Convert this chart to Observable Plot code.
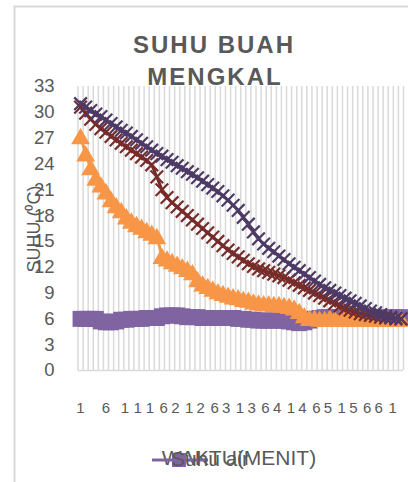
<!DOCTYPE html>
<html><head><meta charset="utf-8">
<script src="https://cdn.jsdelivr.net/npm/d3@7"></script>
<script src="https://cdn.jsdelivr.net/npm/@observablehq/plot@0.6"></script>
<style>body{margin:0;background:#fff;} #chart svg{display:block;}</style>
</head><body><div id="chart"></div>
<script>
// categories: WAKTU (MENIT)
const menit = [1,2,3,4,5,6,7,8,9,10,11,12,13,14,15,16,17,18,19,20,21,22,23,24,25,26,27,28,29,30,31,32,33,34,35,36,37,38,39,40,41,42,43,44,45,46,47,48,49,50,51,52,53,54,55,56,57,58,59,60,61,62,63,64];
// series values (°C)
const suhuA = [31.0,30.6,30.2,29.8,29.5,29.1,28.7,28.3,27.9,27.6,27.2,26.8,26.4,26.0,25.6,25.2,24.9,24.5,24.2,23.8,23.5,23.1,22.8,22.4,22.0,21.6,21.2,20.8,20.3,19.8,19.2,18.6,17.8,17.0,16.1,15.3,14.7,14.2,13.8,13.3,12.9,12.4,12.0,11.6,11.2,10.8,10.4,10.0,9.6,9.3,9.0,8.7,8.4,8.1,7.8,7.5,7.2,6.9,6.7,6.5,6.3,6.2,6.1,6.0];
const suhuB = [30.6,29.9,29.2,28.6,28.1,27.7,27.2,26.8,26.4,26.0,25.6,25.2,24.8,24.4,23.9,22.5,21.0,20.1,19.5,19.0,18.5,18.0,17.5,17.0,16.5,16.0,15.5,15.0,14.5,14.0,13.6,13.2,12.8,12.4,12.1,11.8,11.6,11.4,11.2,11.0,10.8,10.5,10.2,9.9,9.6,9.3,9.0,8.7,8.4,8.1,7.8,7.5,7.2,7.0,6.8,6.6,6.5,6.4,6.3,6.2,6.1,6.1,6.0,6.0];
const suhuC = [27.2,25.2,23.6,22.4,21.6,20.8,19.9,19.2,18.6,17.9,17.4,17.0,16.7,16.3,16.0,15.6,13.3,13.0,12.7,12.4,12.1,11.8,11.4,10.6,10.1,9.8,9.5,9.2,9.0,8.8,8.6,8.5,8.3,8.2,8.0,7.9,7.8,7.8,7.7,7.7,7.6,7.5,7.3,6.9,6.4,6.1,6.1,6.0,6.0,6.1,6.0,6.0,6.1,6.0,6.0,6.0,6.1,6.0,6.0,6.0,6.0,6.0,6.0,6.0];
const suhuAir = [6.0,6.0,6.0,6.0,5.7,5.6,5.6,5.7,5.9,5.9,6.0,6.0,6.0,6.1,6.1,6.1,6.3,6.4,6.4,6.4,6.3,6.2,6.2,6.2,6.1,6.1,6.1,6.1,6.1,6.1,6.1,6.0,6.0,5.9,5.9,5.8,5.8,5.8,5.8,5.8,5.8,5.7,5.6,5.5,5.6,5.8,6.0,6.1,6.2,6.2,6.2,6.2,6.2,6.2,6.2,6.2,6.2,6.2,6.2,6.2,6.2,6.2,6.2,6.2];
// tick labels
const yTicks = [0,3,6,9,12,15,18,21,24,27,30,33];
const xTicks = [1,6,11,16,21,26,31,36,41,46,51,56,61];
const titleLines = ["SUHU BUAH", "MENGKAL"];
const yTitle = "SUHU (\u2070C)";
const xTitle = "WAKTU(MENIT)";
const legendLabel = "Suhu air";

const cDark = "#4d3a66", cRed = "#782c2a", cOrange = "#f79646", cLav = "#8064a2", cText = "#595959";

const toRows = vals => menit.map((m, i) => ({menit: m, suhu: vals[i]}));
const A = toRows(suhuA), B = toRows(suhuB), C = toRows(suhuC), Air = toRows(suhuAir);
const gridPos = menit.map(m => m - 0.5).concat([menit[menit.length - 1] + 0.5]);
const xDomain = [menit[0] - 0.5, menit[menit.length - 1] + 0.5];

const font = "'Liberation Sans', Arial, sans-serif";
const xLetter = 5.5;

const chart = Plot.plot({
  width: 408, height: 482,
  marginLeft: 77.5, marginRight: 5, marginTop: 86, marginBottom: 112,
  x: {type: "linear", domain: xDomain, axis: null},
  y: {domain: [0, 33], axis: null},
  style: {fontFamily: font, background: "white", overflow: "visible"},
  marks: [
    Plot.ruleX(gridPos, {stroke: "#d9d9d9", strokeWidth: 1.5}),
    Plot.ruleY([0], {stroke: "#d9d9d9", strokeWidth: 1.5}),
    Plot.axisY(yTicks, {tickSize: 0, tickPadding: 23.5, fontSize: 18.5, fill: cText, label: null}),
    Plot.axisX(xTicks, {tickSize: 0, tickPadding: 32, fontSize: 15, fill: cText, label: null, dx: xLetter / 2}),
    Plot.lineY(Air, {x: "menit", y: "suhu", stroke: cLav, strokeWidth: 3}),
    Plot.dot(Air, {x: "menit", y: "suhu", symbol: "square", r: 9, fill: cLav, stroke: "none"}),
    Plot.lineY(C, {x: "menit", y: "suhu", stroke: cOrange, strokeWidth: 3}),
    Plot.dot(C, {x: "menit", y: "suhu", symbol: "triangle", r: 7, fill: cOrange, stroke: "none", dy: 2.5}),
    Plot.lineY(B, {x: "menit", y: "suhu", stroke: cRed, strokeWidth: 3}),
    Plot.dot(B, {x: "menit", y: "suhu", symbol: "times", r: 5.8, stroke: cRed, strokeWidth: 2.2}),
    Plot.lineY(A, {x: "menit", y: "suhu", stroke: cDark, strokeWidth: 3}),
    Plot.dot(A, {x: "menit", y: "suhu", symbol: "times", r: 5.8, stroke: cDark, strokeWidth: 2.2})
  ]
});

const svg = d3.select(chart);
svg.selectAll("g[aria-label='x-axis tick label'] text").attr("letter-spacing", xLetter + "px");

svg.append("rect").attr("x", 14.5).attr("y", 6.5).attr("width", 420).attr("height", 500)
  .attr("fill", "none").attr("stroke", "#d9d9d9").attr("stroke-width", 2);

const t = svg.append("text").attr("text-anchor", "middle").attr("fill", cText)
  .attr("font-family", font).attr("font-weight", "bold").attr("font-size", 24)
  .attr("letter-spacing", "2px");
t.append("tspan").attr("x", 214).attr("y", 53).text(titleLines[0]);
t.append("tspan").attr("x", 215).attr("y", 85).text(titleLines[1]);

svg.append("text").attr("transform", "translate(40,229) rotate(-90)")
  .attr("text-anchor", "middle").attr("fill", cText).attr("font-family", font)
  .attr("font-size", 18).text(yTitle);

svg.append("text").attr("x", 239).attr("y", 465).attr("text-anchor", "middle")
  .attr("fill", cText).attr("font-family", font).attr("font-size", 21).text(xTitle);

// legend
svg.append("line").attr("x1", 152).attr("x2", 208).attr("y1", 460).attr("y2", 460)
  .attr("stroke", cLav).attr("stroke-width", 3);
svg.append("rect").attr("x", 172).attr("y", 453).attr("width", 14).attr("height", 14).attr("fill", cLav);
svg.append("text").attr("x", 210).attr("y", 466).attr("fill", cText)
  .attr("font-family", font).attr("font-size", 21).text(legendLabel);

document.getElementById("chart").appendChild(chart);
</script>
</body></html>
